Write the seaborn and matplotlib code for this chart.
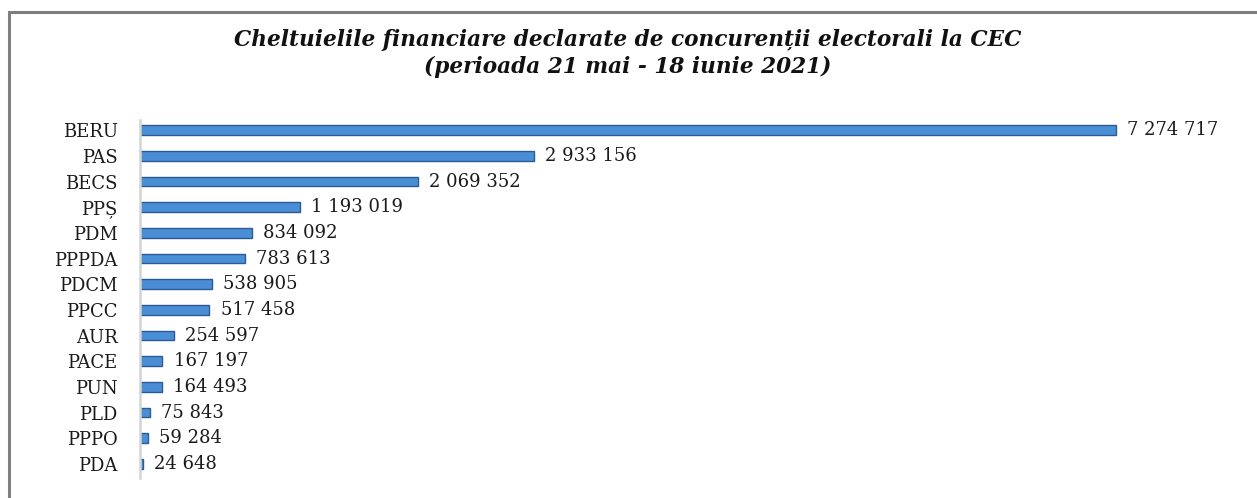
import matplotlib
matplotlib.use("Agg")
import matplotlib.pyplot as plt
import seaborn as sns
import pandas as pd
from matplotlib.patches import Rectangle

parties = ["BERU", "PAS", "BECS", "PPȘ", "PDM", "PPPDA", "PDCM", "PPCC",
           "AUR", "PACE", "PUN", "PLD", "PPPO", "PDA"]
values = [7274717, 2933156, 2069352, 1193019, 834092, 783613, 538905, 517458,
          254597, 167197, 164493, 75843, 59284, 24648]
title_lines = ["Cheltuielile financiare declarate de concurenții electorali la CEC",
               "(perioada 21 mai - 18 iunie 2021)"]

df = pd.DataFrame({"party": parties, "value": values})

sns.set_theme(style="white")
plt.rcParams["font.family"] = ["DejaVu Serif", "DejaVu Sans"]

W, H = 1257, 498
fig = plt.figure(figsize=(W / 100, H / 100), dpi=100)
fig.patch.set_facecolor("white")

# axes placement in pixels
left, right, top, bottom = 140, 1240, 120, 478
ax = fig.add_axes([left / W, 1 - bottom / H, (right - left) / W, (bottom - top) / H])

sns.barplot(data=df, x="value", y="party", orient="h", ax=ax,
            color="#4a8fd6", edgecolor="#2c5b93", linewidth=1.0,
            width=0.38, saturation=1)

xmax = (right - left) * max(values) / (1116 - left)
ax.set_xlim(0, xmax)
ax.set_ylim(len(parties) - 1 + 0.55, -0.4)

for i, v in enumerate(values):
    ax.annotate(f"{v:,}".replace(",", " "), xy=(v, i), xytext=(8, 0),
                textcoords="offset points", va="center", ha="left",
                fontsize=13, color="#1a1a1a")

ax.set_xlabel("")
ax.set_ylabel("")
ax.set_xticks([])
ax.tick_params(axis="y", length=0, pad=16, labelsize=13, labelcolor="#1a1a1a")
for s in ["top", "right", "bottom"]:
    ax.spines[s].set_visible(False)
ax.spines["left"].set_color("#d4d4d4")
ax.spines["left"].set_linewidth(1.8)

fig.text(628 / W, 1 - 40 / H, title_lines[0], ha="center", va="center",
         fontsize=15.6, fontweight="bold", fontstyle="italic", color="#111111")
fig.text(628 / W, 1 - 67 / H, title_lines[1], ha="center", va="center",
         fontsize=15.6, fontweight="bold", fontstyle="italic", color="#111111")

# outer frame (only top and left visible)
fig.add_artist(Rectangle((9 / W, -0.1), 1.2, 1 - 12 / H + 0.1,
                         transform=fig.transFigure, fill=False,
                         edgecolor="#7f7f7f", linewidth=2.2))

fig.savefig("out.png", dpi=100, facecolor="white")
